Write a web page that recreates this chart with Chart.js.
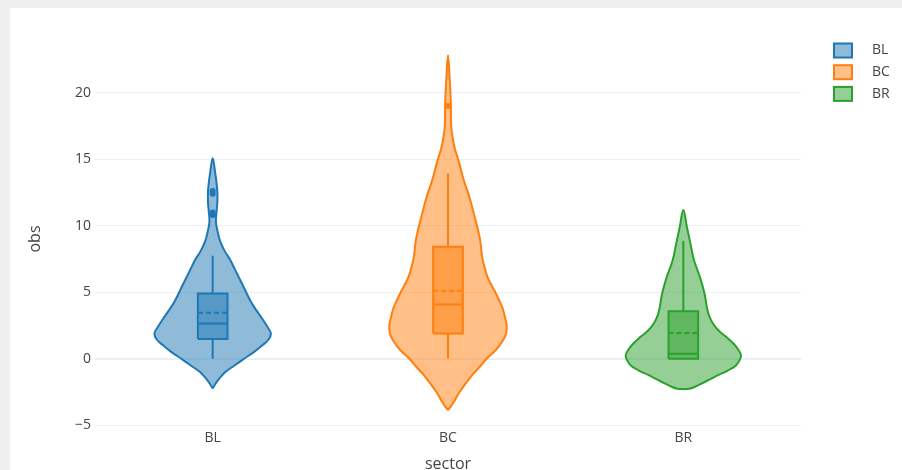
<!DOCTYPE html>
<html>
<head>
    <title>Observations by sector</title>
    <meta name="viewport" content="width=device-width, initial-scale=1">
    <style>
        html, body { margin: 0; padding: 0; background: #efefef; }
        #panel { position: absolute; left: 10px; top: 8px; width: 892px; height: 462px; background: #fff; }
        canvas { display: block; }
    </style>
    <script src="https://cdn.jsdelivr.net/npm/chart.js"></script>
</head>
<body>
    <div id="panel"><canvas id="violinChart" width="892" height="462"></canvas></div>

    <script>
        const sectors = ['BL', 'BC', 'BR'];
        const yTicks = [-5, 0, 5, 10, 15, 20];

        // violin outlines: obs value -> relative width (1 = widest)
        const blObs = [-2.23, -2.0, -1.73, -1.4, -0.98, -0.5, 0.02, 0.5, 1.03, 1.45, 1.9, 2.4, 3.03, 3.6, 4.29, 5.54, 6.79, 7.5, 8.05, 8.8, 9.55, 10.3, 11.0, 11.8, 12.5, 13.06, 14.06, 15.06];
        const blDensity = [0, 0.03, 0.07, 0.13, 0.22, 0.37, 0.54, 0.70, 0.85, 0.95, 0.99, 0.93, 0.84, 0.75, 0.65, 0.51, 0.37, 0.29, 0.21, 0.13, 0.085, 0.055, 0.065, 0.08, 0.08, 0.07, 0.04, 0];
        const bcObs = [-3.86, -3.5, -3.23, -2.48, -1.23, -0.6, 0.02, 0.7, 1.28, 1.8, 2.4, 3.1, 3.78, 4.4, 5.04, 5.6, 6.29, 7.54, 8.8, 9.68, 10.9, 12.2, 13.4, 14.7, 15.9, 16.6, 17.2, 18.0, 19.0, 20.9, 22.8];
        const bcDensity = [0, 0.06, 0.10, 0.20, 0.41, 0.54, 0.66, 0.82, 0.92, 0.98, 1.0, 0.97, 0.93, 0.87, 0.80, 0.73, 0.66, 0.585, 0.55, 0.51, 0.44, 0.36, 0.27, 0.19, 0.11, 0.08, 0.06, 0.05, 0.05, 0.03, 0];
        const brObs = [-2.28, -2.25, -2.1, -1.86, -1.55, -1.23, -0.85, -0.47, 0.23, 0.77, 1.15, 1.53, 2.0, 2.41, 3.0, 3.66, 4.91, 6.17, 7.42, 8.67, 9.92, 11.18];
        const brDensity = [0, 0.1, 0.2, 0.31, 0.45, 0.59, 0.77, 0.9, 0.98, 0.92, 0.85, 0.76, 0.63, 0.54, 0.46, 0.41, 0.36, 0.28, 0.18, 0.12, 0.06, 0];

        // box stats: lower fence, q1, median, mean, q3, upper fence
        const blBox = [0, 1.48, 2.65, 3.46, 4.91, 7.74];
        const bcBox = [0, 1.9, 4.08, 5.12, 8.42, 13.93];
        const brBox = [0, 0, 0.38, 1.93, 3.58, 8.85];

        const blOutliers = [12.6, 12.4, 11.0, 10.8];
        const bcOutliers = [19.0];
        const brOutliers = [];

        const lineColors = ['#1f77b4', '#ff7f0e', '#2ca02c'];
        const fillColors = ['rgba(31,119,180,0.5)', 'rgba(255,127,14,0.5)', 'rgba(44,160,44,0.5)'];
        const violinHalf = 0.25; // in category units
        const boxHalf = 0.063;

        const profiles = [[blObs, blDensity], [bcObs, bcDensity], [brObs, brDensity]];
        const boxes = [blBox, bcBox, brBox];
        const outliers = [blOutliers, bcOutliers, brOutliers];

        function outline(c, obs, dens) {
            const right = obs.map((y, i) => ({ x: c + violinHalf * dens[i], y }));
            const left = obs.map((y, i) => ({ x: c - violinHalf * dens[i], y })).reverse();
            return right.concat(left.slice(1));
        }

        const datasets = [];
        sectors.forEach((name, c) => {
            const [lf, q1, med, mean, q3, uf] = boxes[c];
            const base = { showLine: true, pointRadius: 0, borderColor: lineColors[c], borderWidth: 2 };
            datasets.push({ ...base, label: name, data: outline(c, ...profiles[c]),
                backgroundColor: fillColors[c], fill: 'shape', tension: 0.4, order: 5 });
            datasets.push({ ...base, label: name + ' box', fill: 'shape', backgroundColor: fillColors[c], order: 4,
                data: [{ x: c - boxHalf, y: q1 }, { x: c + boxHalf, y: q1 }, { x: c + boxHalf, y: q3 },
                       { x: c - boxHalf, y: q3 }, { x: c - boxHalf, y: q1 }] });
            datasets.push({ ...base, label: name + ' whiskers', order: 3,
                data: [{ x: c, y: lf }, { x: c, y: q1 }, { x: c, y: null }, { x: c, y: q3 }, { x: c, y: uf }] });
            datasets.push({ ...base, label: name + ' median', order: 3,
                data: [{ x: c - boxHalf, y: med }, { x: c + boxHalf, y: med }] });
            datasets.push({ ...base, label: name + ' mean', order: 3, borderDash: [5, 3],
                data: [{ x: c - boxHalf, y: mean }, { x: c + boxHalf, y: mean }] });
            datasets.push({ label: name + ' outliers', showLine: false, order: 1, pointRadius: 3, borderWidth: 0,
                pointBackgroundColor: lineColors[c], data: outliers[c].map(y => ({ x: c, y })) });
        });

        // plotly-style legend on the right
        const sectorLegend = {
            id: 'sectorLegend',
            afterDraw(chart) {
                const ctx = chart.ctx;
                ctx.save();
                sectors.forEach((name, i) => {
                    const y = 42.5 + i * 21.7;
                    ctx.fillStyle = fillColors[i];
                    ctx.strokeStyle = lineColors[i];
                    ctx.lineWidth = 2;
                    ctx.fillRect(824, y - 7, 18, 14);
                    ctx.strokeRect(824, y - 7, 18, 14);
                    ctx.fillStyle = '#444';
                    ctx.font = '14px "Open Sans"';
                    ctx.textBaseline = 'middle';
                    ctx.fillText(name, 862, y);
                });
                ctx.restore();
            }
        };

        new Chart(document.getElementById('violinChart').getContext('2d'), {
            type: 'scatter',
            data: { datasets },
            plugins: [sectorLegend],
            options: {
                responsive: false,
                animation: false,
                events: [],
                layout: { padding: { top: 38, right: 101, left: 0, bottom: 0 } },
                plugins: { legend: { display: false }, tooltip: { enabled: false } },
                scales: {
                    x: {
                        type: 'linear', min: -0.5, max: 2.5,
                        afterBuildTicks: axis => { axis.ticks = sectors.map((s, i) => ({ value: i })); },
                        afterFit: axis => { axis.height = 38; },
                        grid: { display: false, drawTicks: false },
                        border: { display: false },
                        ticks: { padding: -2, color: '#444', font: { family: 'Open Sans', size: 14 },
                                 callback: v => sectors[v] },
                        title: { display: true, text: 'sector', color: '#444', padding: { top: 0, bottom: -2 },
                                 font: { family: 'Open Sans', size: 16, lineHeight: 1 } }
                    },
                    y: {
                        min: -5.5, max: 23.5,
                        afterBuildTicks: axis => { axis.ticks = yTicks.map(v => ({ value: v })); },
                        afterFit: axis => { axis.width = 85; },
                        grid: { color: '#ebf0f8', drawTicks: false,
                                lineWidth: ctx => (ctx.tick && ctx.tick.value === 0 ? 2 : 1) },
                        border: { display: false },
                        ticks: { padding: 4, color: '#444', font: { family: 'Open Sans', size: 14 },
                                 callback: v => (v < 0 ? '\u2212' + Math.abs(v) : String(v)) },
                        title: { display: true, text: 'obs', color: '#444', padding: { top: 16, bottom: 0 },
                                 font: { family: 'Open Sans', size: 16 } }
                    }
                }
            }
        });
    </script>
</body>
</html>
